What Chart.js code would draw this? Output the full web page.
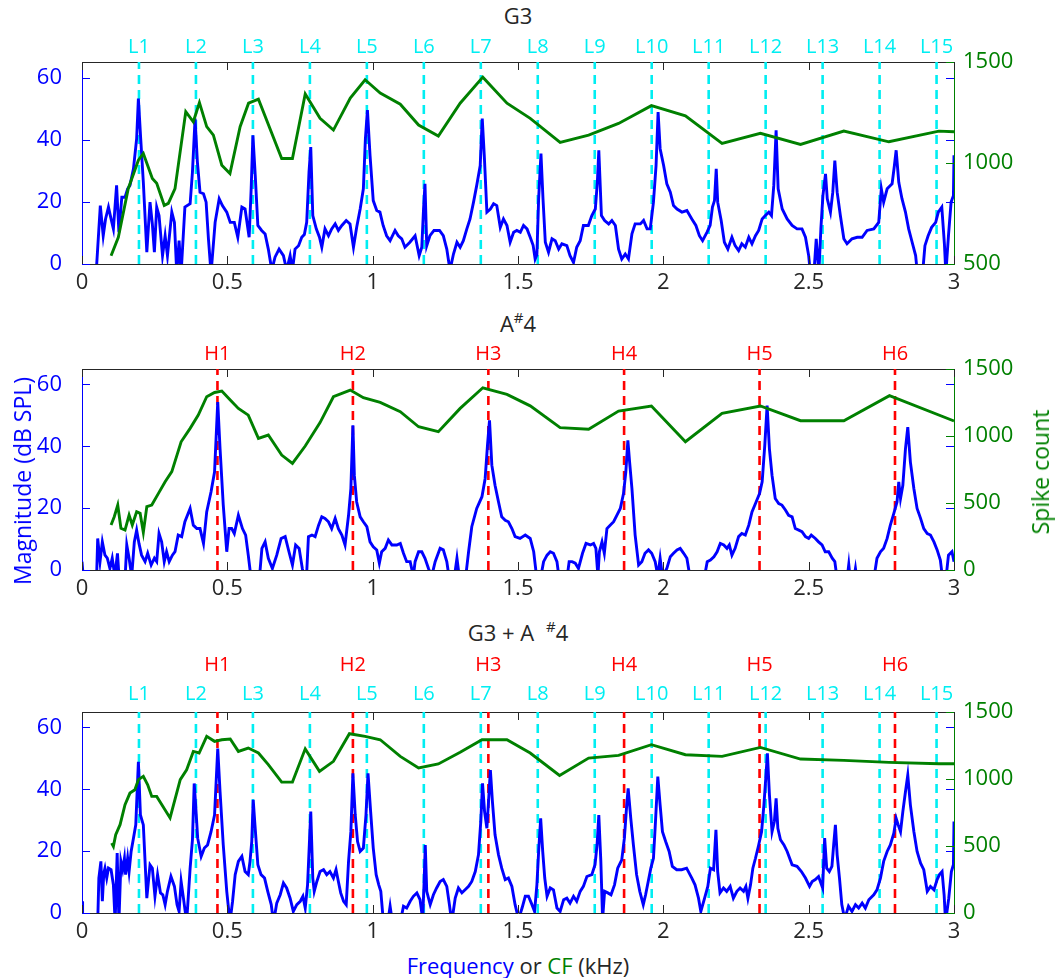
<!DOCTYPE html>
<html>
<head>
<meta charset="utf-8">
<script src="https://cdn.jsdelivr.net/npm/chart.js@4.4.1/dist/chart.umd.min.js"></script>
<style>
  html, body { margin: 0; padding: 0; background: #fff; }
  #fig { position: relative; width: 1055px; height: 978px; overflow: hidden; font-family: "Open Sans", sans-serif; }
  #fig canvas { position: absolute; left: 0; }
  .ttl { position: absolute; left: 0; width: 1036px; text-align: center; font-size: 22px; line-height: 26px; color: #262626; }
  .ttl sup { font-size: 15px; vertical-align: 0; position: relative; top: -9px; }
  .ylab { position: absolute; font-size: 23px; line-height: 28px; white-space: nowrap; transform: translate(-50%, -50%) rotate(-90deg); }
  .xlab { position: absolute; left: 0; width: 1036px; text-align: center; font-size: 22px; line-height: 28px; color: #262626; }
</style>
</head>
<body>
<div id="fig">
  <div class="ttl" style="top:2px">G3</div>
  <canvas id="cG3" width="1055" height="275" style="top:25px"></canvas>
  <div class="ttl" style="top:310px">A<sup>#</sup>4</div>
  <canvas id="cAs4" width="1055" height="275" style="top:335px"></canvas>
  <div class="ttl" style="top:619px">G3 + A <sup style="margin-left:6px">#</sup>4</div>
  <canvas id="cMix" width="1055" height="310" style="top:640px"></canvas>
  <div class="ylab" style="left:22px;top:481px;color:#0000ff">Magnitude (dB SPL)</div>
  <div class="ylab" style="left:1040px;top:472px;color:#008000">Spike count</div>
  <div class="xlab" style="top:951px"><span style="color:#0000ff">Frequency</span> or <span style="color:#008000">CF</span> (kHz)</div>
</div>
<script>
// ---- axis ticks and marker labels ----
const xTicks = [0, 0.5, 1, 1.5, 2, 2.5, 3];
const magTicks = [0, 20, 40, 60];
const spikeTicksG3 = [500, 1000, 1500];
const spikeTicks = [0, 500, 1000, 1500];
const lPos = [0.196, 0.392, 0.588, 0.784, 0.980, 1.176, 1.372, 1.568, 1.764, 1.960, 2.156, 2.352, 2.548, 2.744, 2.940];
const lNames = ['L1','L2','L3','L4','L5','L6','L7','L8','L9','L10','L11','L12','L13','L14','L15'];
const hPos = [0.466, 0.932, 1.398, 1.865, 2.331, 2.797];
const hNames = ['H1','H2','H3','H4','H5','H6'];

// ---- G3 : spectrum (dB SPL) and spike count vs CF ----
const g3Freq = [0.048,0.063,0.073,0.081,0.091,0.100,0.108,0.119,0.127,0.137,0.148,0.157,0.165,0.177,0.188,0.194,0.202,0.211,0.223,0.234,0.242,0.249,0.257,0.265,0.277,0.286,0.294,0.309,0.318,0.326,0.334,0.341,0.354,0.372,0.380,0.389,0.397,0.406,0.418,0.427,0.435,0.444,0.458,0.472,0.483,0.498,0.510,0.524,0.536,0.550,0.561,0.575,0.582,0.588,0.596,0.605,0.618,0.630,0.641,0.653,0.664,0.678,0.693,0.704,0.716,0.724,0.733,0.745,0.756,0.765,0.773,0.781,0.787,0.794,0.806,0.817,0.825,0.836,0.848,0.859,0.871,0.882,0.894,0.909,0.922,0.934,0.945,0.957,0.968,0.975,0.982,0.991,1.002,1.014,1.025,1.036,1.048,1.060,1.077,1.088,1.100,1.111,1.128,1.146,1.160,1.169,1.175,1.180,1.186,1.197,1.211,1.230,1.243,1.255,1.266,1.278,1.290,1.301,1.312,1.324,1.335,1.347,1.358,1.370,1.377,1.384,1.393,1.405,1.416,1.427,1.439,1.450,1.462,1.473,1.485,1.496,1.508,1.519,1.531,1.542,1.552,1.559,1.565,1.571,1.579,1.586,1.594,1.605,1.617,1.628,1.640,1.651,1.668,1.679,1.691,1.702,1.714,1.725,1.742,1.754,1.766,1.773,1.778,1.787,1.798,1.812,1.823,1.835,1.846,1.857,1.869,1.880,1.892,1.903,1.921,1.932,1.944,1.955,1.966,1.975,1.982,1.989,2.001,2.012,2.024,2.035,2.047,2.064,2.081,2.098,2.112,2.124,2.135,2.150,2.161,2.169,2.176,2.182,2.187,2.199,2.210,2.222,2.236,2.247,2.259,2.270,2.282,2.294,2.305,2.317,2.328,2.340,2.351,2.363,2.372,2.380,2.388,2.395,2.409,2.426,2.443,2.460,2.477,2.489,2.500,2.506,2.518,2.526,2.535,2.542,2.549,2.558,2.564,2.575,2.583,2.590,2.598,2.609,2.621,2.632,2.649,2.667,2.684,2.701,2.724,2.741,2.750,2.758,2.770,2.787,2.795,2.801,2.810,2.821,2.833,2.844,2.856,2.868,2.874,2.892,2.900,2.911,2.923,2.937,2.946,2.958,2.967,2.972,2.981,2.990,2.998,3.000];
const g3Mag = [-4,18.8,9.1,14.5,18.3,14.5,11.3,25.3,10.2,21.5,21.5,24.2,25.3,30.6,40.3,53.2,40.3,26.3,3.8,19.9,12.9,3.8,18.3,15.6,2.7,9.1,2.7,16.7,13.4,-3,7.5,-3,18.3,19.4,29.6,46.8,32.8,23.1,22.6,19.9,8.1,-3,13.4,21.0,18.8,16.7,13.4,13.4,8.6,18.3,17.7,8.6,24.2,41.4,28.5,12.4,10.8,9.7,4.8,-2,2.2,4.8,2.7,-2,2.7,-2,4.8,5.9,8.6,9.5,13.4,29.6,37.6,15.6,11.3,8.6,5.4,11.3,9.1,11.3,12.9,10.8,12.4,14.0,12.9,5.4,11.8,17.7,24.2,40.3,49.5,34.9,20.4,17.2,16.7,12.4,9.1,7.5,10.8,9.1,8.1,5.4,7.0,9.1,2.7,5.4,17.7,25.8,5.9,9.1,10.8,10.8,9.1,4.8,-2,3.2,7.0,5.4,7.5,11.3,14.5,19.9,25.3,31.7,46.8,34.9,16.7,17.7,19.4,18.8,11.8,14.5,12.4,7.0,10.2,10.8,10.2,12.4,11.3,8.6,6.0,1.6,3.0,21.0,35.5,21.0,7.0,3.8,8.1,7.5,4.8,6.5,5.9,2.7,0.5,5.4,7.5,12.4,12.4,15.6,17.7,26.3,36.6,15.6,14.0,12.9,14.0,12.4,4.8,1.6,3.2,1.6,9.7,12.9,12.9,14.0,11.3,11.3,19.9,31.7,48.9,37.1,31.7,25.8,23.1,18.8,17.7,16.7,17.2,14.5,12.4,9.1,7.5,10.2,12.4,18.3,20.4,30.6,19.9,14.0,7.0,4.8,8.6,5.9,4.3,6.5,5.4,8.6,6.5,9.1,10.8,14.5,15.6,16.7,15.6,25.3,43.0,24.2,17.7,14.5,12.4,11.3,11.3,8.6,2.7,-3,-3,8.1,-3,11.3,22.0,29.0,21.0,16.7,23.1,33.3,23.1,15.6,8.1,6.5,8.1,8.6,8.6,10.8,11.3,13.4,24.2,19.9,24.2,25.8,31.7,36.6,26.3,21.0,16.7,11.3,7.0,2.7,-3,-3,5.9,9.1,11.8,13.4,16.7,18.3,6.5,-3,9.1,19.9,22.0,35.0];
const g3Cf = [0.100,0.125,0.159,0.194,0.211,0.242,0.257,0.283,0.297,0.320,0.357,0.383,0.404,0.429,0.452,0.481,0.509,0.544,0.573,0.607,0.687,0.724,0.768,0.819,0.865,0.923,0.974,1.026,1.095,1.158,1.226,1.301,1.379,1.462,1.542,1.645,1.743,1.846,1.959,2.076,2.202,2.334,2.472,2.621,2.776,2.948,3.000];
const g3Spikes = [541,632,873,1014,1047,923,900,790,800,873,1254,1204,1299,1180,1138,989,948,1180,1296,1316,1022,1022,1342,1221,1163,1321,1412,1346,1291,1188,1133,1296,1425,1296,1221,1102,1138,1196,1284,1233,1097,1147,1092,1158,1105,1158,1155];

// ---- A#4 ----
const as4Freq = [0.000,0.005,0.050,0.054,0.062,0.070,0.079,0.087,0.096,0.104,0.113,0.122,0.128,0.148,0.154,0.162,0.171,0.180,0.188,0.196,0.205,0.217,0.226,0.238,0.249,0.257,0.265,0.274,0.283,0.291,0.300,0.311,0.320,0.331,0.343,0.354,0.372,0.383,0.395,0.406,0.418,0.429,0.444,0.456,0.467,0.475,0.486,0.498,0.506,0.515,0.524,0.538,0.552,0.563,0.572,0.582,0.610,0.619,0.630,0.641,0.655,0.670,0.685,0.699,0.712,0.724,0.735,0.747,0.758,0.765,0.772,0.779,0.791,0.802,0.814,0.825,0.836,0.848,0.859,0.871,0.882,0.894,0.905,0.917,0.925,0.932,0.937,0.945,0.957,0.968,0.980,0.991,1.002,1.014,1.023,1.031,1.043,1.054,1.066,1.083,1.095,1.106,1.117,1.129,1.140,1.146,1.158,1.169,1.180,1.192,1.203,1.215,1.232,1.243,1.255,1.264,1.280,1.290,1.299,1.319,1.330,1.341,1.358,1.376,1.387,1.395,1.402,1.410,1.421,1.433,1.444,1.456,1.467,1.479,1.490,1.507,1.525,1.542,1.554,1.565,1.577,1.588,1.600,1.611,1.622,1.634,1.642,1.668,1.676,1.686,1.697,1.708,1.722,1.734,1.749,1.760,1.768,1.775,1.780,1.789,1.797,1.806,1.817,1.829,1.840,1.852,1.863,1.871,1.878,1.884,1.892,1.903,1.915,1.926,1.937,1.949,1.960,1.972,1.981,1.989,1.997,2.012,2.024,2.035,2.047,2.058,2.070,2.081,2.093,2.140,2.151,2.162,2.174,2.185,2.196,2.208,2.219,2.227,2.236,2.247,2.259,2.270,2.282,2.294,2.305,2.317,2.331,2.340,2.349,2.357,2.365,2.374,2.385,2.397,2.408,2.420,2.431,2.443,2.454,2.466,2.477,2.489,2.500,2.509,2.523,2.534,2.546,2.557,2.569,2.581,2.590,2.598,2.632,2.638,2.643,2.655,2.661,2.666,2.724,2.735,2.747,2.758,2.770,2.781,2.793,2.804,2.810,2.816,2.824,2.833,2.841,2.850,2.862,2.873,2.885,2.896,2.908,2.919,2.931,2.942,2.953,2.961,2.972,2.981,2.993,3.000];
const as4Mag = [2.7,-3,-3,10.2,2.7,9.1,4.8,3.8,0.5,3.8,-2,5.4,-3,-3,8.1,3.8,-2,9.1,12.9,8.6,4.8,2.7,5.4,1.6,3.8,2.7,11.8,9.1,2.7,5.9,2.7,4.8,5.9,11.3,10.8,15.6,19.9,14.5,13.4,13.4,8.6,18.8,25.3,31.7,54.3,39.2,21.0,5.9,13.4,13.4,11.8,17.7,13.4,11.3,4.8,-3,-3,7.0,9.1,3.8,0.5,4.8,10.2,10.8,5.9,1.6,8.1,7.0,0.5,-3,-3,10.8,11.3,10.8,14.5,17.2,16.7,15.6,13.4,16.7,13.4,11.3,8.1,17.7,26.3,46.8,30.6,22.0,17.2,15.6,14.0,9.1,7.5,6.5,2.2,5.9,7.0,9.7,8.1,8.1,8.6,5.4,2.7,2.7,-2,2.7,5.9,5.9,3.8,0.5,-2,2.7,7.0,6.5,2.7,-3,-3,3.8,-3,-3,5.9,14.0,19.9,23.7,29.6,40.3,48.4,33.9,27.4,22.0,17.2,16.1,15.6,13.4,10.8,10.2,11.3,10.2,5.9,-3,-3,2.7,4.8,5.9,5.4,2.7,-3,-3,2.7,2.7,2.2,0.5,5.4,8.6,8.1,8.6,7.0,-2,5.9,9.1,5.4,13.4,14.5,15.6,17.7,19.9,24.7,31.7,41.9,34.9,26.3,11.3,1.6,2.7,5.4,6.5,5.4,2.7,-2,3.8,-2,0.5,4.3,5.4,6.5,7.0,5.4,3.8,-3,-3,2.7,3.2,4.3,5.9,8.6,8.1,7.0,8.1,4.8,7.0,10.8,11.8,11.3,14.5,18.8,21.5,24.7,28.5,40.3,53.2,39.2,30.6,23.1,21.5,21.0,19.4,17.7,17.2,13.4,12.9,12.4,10.8,10.2,11.3,10.2,9.1,8.1,5.9,5.9,3.8,2.7,-3,-3,1.8,-3,-3,0.5,-3,-3,3.8,5.9,7.0,10.2,14.5,18.3,22.0,28.5,23.1,27.4,39.2,46.2,34.9,26.3,19.9,16.7,13.4,11.8,11.3,9.1,6.5,3.2,-3,-3,4.8,5.9,2.7];
const as4Cf = [0.100,0.111,0.123,0.134,0.148,0.162,0.173,0.188,0.200,0.211,0.223,0.240,0.263,0.286,0.309,0.341,0.372,0.400,0.429,0.456,0.481,0.510,0.538,0.572,0.607,0.641,0.687,0.724,0.768,0.819,0.865,0.923,0.968,1.026,1.095,1.158,1.226,1.301,1.379,1.462,1.542,1.645,1.743,1.846,1.959,2.076,2.202,2.334,2.472,2.621,2.778,3.000];
const as4Spikes = [336,398,485,311,298,410,336,435,423,281,473,485,572,659,734,957,1057,1156,1293,1325,1335,1268,1206,1156,982,1007,858,796,925,1100,1293,1343,1286,1251,1181,1069,1032,1206,1360,1311,1225,1062,1050,1186,1224,957,1169,1224,1114,1114,1301,1112];

// ---- G3 + A#4 ----
const mixFreq = [0.000,0.002,0.054,0.058,0.065,0.070,0.075,0.079,0.085,0.091,0.100,0.108,0.114,0.121,0.127,0.134,0.140,0.146,0.150,0.157,0.162,0.169,0.177,0.185,0.194,0.201,0.211,0.223,0.234,0.242,0.251,0.260,0.270,0.278,0.286,0.294,0.306,0.318,0.327,0.334,0.341,0.349,0.360,0.372,0.380,0.386,0.391,0.398,0.410,0.421,0.432,0.444,0.456,0.467,0.475,0.486,0.498,0.509,0.518,0.527,0.538,0.550,0.561,0.572,0.578,0.584,0.589,0.595,0.605,0.616,0.628,0.639,0.651,0.659,0.670,0.682,0.693,0.704,0.716,0.727,0.739,0.751,0.760,0.768,0.776,0.782,0.787,0.794,0.799,0.808,0.819,0.831,0.842,0.853,0.865,0.874,0.882,0.890,0.900,0.909,0.917,0.925,0.932,0.940,0.948,0.957,0.968,0.977,0.984,0.993,1.002,1.012,1.021,1.028,1.037,1.052,1.060,1.068,1.095,1.106,1.117,1.129,1.140,1.152,1.163,1.172,1.177,1.181,1.186,1.198,1.209,1.220,1.232,1.243,1.255,1.264,1.272,1.284,1.295,1.307,1.318,1.330,1.341,1.353,1.364,1.372,1.378,1.385,1.393,1.400,1.405,1.412,1.421,1.433,1.444,1.456,1.467,1.479,1.490,1.502,1.514,1.525,1.536,1.548,1.557,1.565,1.571,1.578,1.585,1.592,1.600,1.611,1.622,1.634,1.645,1.657,1.668,1.679,1.691,1.702,1.714,1.725,1.737,1.754,1.765,1.772,1.778,1.785,1.791,1.798,1.809,1.820,1.832,1.843,1.857,1.866,1.874,1.879,1.888,1.897,1.908,1.919,1.931,1.939,1.948,1.957,1.966,1.973,1.981,1.989,1.997,2.008,2.020,2.031,2.046,2.063,2.080,2.098,2.109,2.121,2.129,2.142,2.153,2.162,2.173,2.181,2.187,2.195,2.207,2.218,2.230,2.241,2.253,2.264,2.276,2.284,2.291,2.300,2.308,2.317,2.328,2.338,2.346,2.354,2.358,2.365,2.374,2.382,2.388,2.394,2.403,2.415,2.426,2.443,2.460,2.475,2.489,2.503,2.512,2.523,2.534,2.548,2.555,2.562,2.571,2.580,2.586,2.592,2.598,2.606,2.614,2.624,2.637,2.649,2.661,2.672,2.684,2.695,2.707,2.724,2.735,2.747,2.758,2.770,2.781,2.793,2.801,2.808,2.816,2.824,2.833,2.841,2.850,2.862,2.873,2.885,2.896,2.908,2.919,2.931,2.942,2.950,2.959,2.966,2.971,2.982,2.991,2.998,3.000];
const mixMag = [3.8,-3,-3,11.3,16.7,3.8,12.9,14.5,11.3,14.5,14.0,9.1,-3,19.4,-3,16.7,14.0,17.7,12.4,17.7,13.4,19.9,24.2,28.5,48.9,31.7,28.5,4.8,15.6,14.5,5.4,12.4,6.5,5.9,2.7,7.0,11.8,8.6,2.7,0.5,10.2,4.8,-3,14.5,23.7,41.9,34.9,24.2,18.3,21.0,22.0,26.3,31.7,53.2,39.2,22.0,7.0,-3,3.8,12.4,16.7,18.3,13.4,12.4,16.7,23.1,36.6,28.5,15.6,12.4,11.3,7.0,2.7,-3,3.2,5.9,9.7,8.1,4.8,0.5,2.7,3.8,5.4,1.6,9.1,22.0,32.8,11.3,7.0,10.2,13.4,14.0,12.4,13.4,11.3,14.0,10.2,6.5,3.8,2.7,16.7,26.3,45.2,31.7,23.1,19.9,21.0,31.7,45.2,32.8,21.0,12.4,9.1,7.0,-3,-3,2.2,-3,-3,2.2,1.6,3.8,5.4,6.5,4.3,-2,10.2,22.0,7.0,2.7,5.9,8.1,10.2,10.8,8.6,2.7,-3,4.8,8.1,6.5,7.5,8.6,10.2,13.4,18.8,29.6,41.9,32.8,27.4,38.2,46.2,36.0,25.3,18.8,14.5,10.8,11.3,8.6,2.7,-2,1.6,5.4,5.4,2.7,0.5,9.1,19.9,30.6,19.9,11.3,5.4,8.1,7.5,1.6,0.5,4.3,4.8,3.2,5.4,3.8,7.0,8.6,11.8,12.4,15.6,22.0,31.7,16.7,-2,7.0,6.5,5.9,9.1,14.5,17.2,24.2,34.9,40.3,30.6,22.0,12.4,7.0,2.7,5.9,10.2,14.5,17.7,29.6,44.1,34.9,26.3,23.1,19.9,15.1,14.0,14.0,14.5,11.3,9.1,4.8,0.5,4.8,8.6,14.5,14.0,26.9,13.4,6.5,8.1,7.0,8.6,4.8,7.0,8.1,7.0,8.6,4.8,9.1,14.5,17.7,22.0,26.3,34.9,45.7,51.6,38.2,26.3,29.6,37.1,27.4,23.7,22.0,19.9,15.6,15.1,13.4,11.3,8.6,10.2,10.8,11.8,8.1,24.2,14.5,13.4,15.1,22.0,28.5,18.8,11.3,2.7,-2,2.2,0.5,2.7,1.6,3.2,1.6,4.3,5.9,7.5,11.3,16.7,19.9,22.0,25.8,30.6,28.5,26.3,32.8,39.2,44.6,34.9,26.3,19.9,16.1,14.0,7.0,8.6,7.5,10.8,12.4,13.4,5.9,-3,4.8,13.4,15.6,29.6];
const mixCf = [0.102,0.108,0.116,0.131,0.148,0.165,0.182,0.194,0.211,0.226,0.240,0.257,0.303,0.338,0.360,0.383,0.403,0.429,0.456,0.481,0.510,0.538,0.572,0.607,0.641,0.687,0.724,0.768,0.817,0.865,0.920,0.974,1.026,1.095,1.158,1.226,1.301,1.376,1.462,1.542,1.643,1.743,1.846,1.959,2.076,2.202,2.334,2.472,2.621,2.776,2.948,3.000];
const mixSpikes = [522,497,584,659,808,895,920,995,1020,957,870,870,709,995,1069,1206,1194,1318,1281,1293,1298,1206,1231,1194,1107,977,977,1225,1057,1132,1338,1318,1293,1169,1082,1112,1199,1293,1293,1194,1027,1156,1176,1256,1181,1169,1236,1149,1139,1124,1114,1114];

// ---- styling ----
const BLUE = '#0000ff';
const GREEN = '#008000';
const CYAN = '#00eef2';
const RED = '#ff0000';
const INK = '#262626';
const FONT = { family: '"Open Sans", sans-serif', size: 22 };
const LABEL_FONT = { family: '"Open Sans", sans-serif', size: 20 };
const MAG_MAX = 65;
const LINE_W = 2.9;

function points(xs, ys) { return xs.map((x, i) => ({ x, y: ys[i] })); }
function markerLines(pos) {
  const d = [];
  pos.forEach(p => { d.push({ x: p, y: 0 }, { x: p, y: MAG_MAX }, { x: p, y: null }); });
  return d;
}
function fixTicks(values) { return s => { s.ticks = values.map(v => ({ value: v })); }; }

// small inward tick marks on all four sides of the plot box
const inwardTicks = {
  id: 'inwardTicks',
  afterDatasetsDraw(chart) {
    const { ctx, chartArea: a, scales } = chart;
    const len = 8;
    ctx.save();
    ctx.lineWidth = 1;
    ctx.strokeStyle = INK;
    ctx.beginPath();
    scales.x.ticks.forEach(t => {
      const px = Math.round(scales.x.getPixelForValue(t.value)) + 0.5;
      ctx.moveTo(px, a.bottom); ctx.lineTo(px, a.bottom - len);
      ctx.moveTo(px, a.top); ctx.lineTo(px, a.top + len);
    });
    ctx.stroke();
    ctx.strokeStyle = BLUE;
    ctx.beginPath();
    scales.y.ticks.forEach(t => {
      const py = Math.round(scales.y.getPixelForValue(t.value)) + 0.5;
      ctx.moveTo(a.left, py); ctx.lineTo(a.left + len, py);
      ctx.moveTo(a.right, py); ctx.lineTo(a.right - len, py);
    });
    ctx.stroke();
    ctx.strokeStyle = GREEN;
    ctx.beginPath();
    scales.y2.ticks.forEach(t => {
      const py = Math.round(scales.y2.getPixelForValue(t.value)) + 0.5;
      ctx.moveTo(a.right, py); ctx.lineTo(a.right - len, py);
    });
    ctx.stroke();
    ctx.restore();
  }
};

function topAxis(pos, names, color, weight, height, pad, withBorder) {
  return {
    type: 'linear', position: 'top', min: 0, max: 3, weight,
    afterBuildTicks: fixTicks(pos),
    afterFit: s => { s.height = height; },
    ticks: { callback: (v, i) => names[i], color, font: LABEL_FONT, padding: pad, maxRotation: 0, autoSkip: false },
    grid: { display: false, drawTicks: false },
    border: { display: withBorder, color: INK, width: 1 }
  };
}

function buildPanel(id, o) {
  const datasets = [
    { data: points(o.freq, o.mag), xAxisID: 'x', yAxisID: 'y', borderColor: BLUE, borderWidth: LINE_W,
      pointRadius: 0, tension: 0, clip: 0, order: 1 },
    { data: points(o.cf, o.spikes), xAxisID: 'x', yAxisID: 'y2', borderColor: GREEN, borderWidth: LINE_W,
      pointRadius: 0, tension: 0, clip: 0, order: 0 }
  ];
  o.markers.forEach(m => {
    datasets.push({ data: markerLines(m.pos), xAxisID: 'x', yAxisID: 'y', borderColor: m.color, borderWidth: 2.6,
      borderDash: [9, 6], pointRadius: 0, spanGaps: false, clip: 0, order: m.order });
  });
  const scales = {
    x: {
      type: 'linear', position: 'bottom', min: 0, max: 3,
      afterBuildTicks: fixTicks(xTicks),
      afterFit: s => { s.height = o.bottomHeight; },
      ticks: { callback: v => String(v), color: INK, font: FONT, padding: 6, maxRotation: 0, autoSkip: false },
      grid: { display: false, drawTicks: false },
      border: { display: true, color: INK, width: 1 }
    },
    y: {
      type: 'linear', position: 'left', min: 0, max: MAG_MAX,
      afterBuildTicks: fixTicks(magTicks),
      afterFit: s => { s.width = 82; },
      ticks: { callback: v => String(v), color: BLUE, font: FONT, padding: 20 },
      grid: { display: false, drawTicks: false },
      border: { display: true, color: BLUE, width: 1 }
    },
    y2: {
      type: 'linear', position: 'right', min: o.spikeMin, max: 1500,
      afterBuildTicks: fixTicks(o.spikeTicks),
      afterFit: s => { s.width = 101; },
      ticks: { callback: v => String(v), color: GREEN, font: FONT, padding: 9 },
      grid: { display: false, drawTicks: false },
      border: { display: true, color: GREEN, width: 1 }
    }
  };
  o.tops.forEach((t, i) => {
    scales['top' + i] = topAxis(t.pos, t.names, t.color, i, t.height, t.pad, i === 0);
  });
  return new Chart(document.getElementById(id), {
    type: 'line',
    data: { datasets },
    options: {
      responsive: false, animation: false, devicePixelRatio: 1, events: [],
      layout: { padding: 0 },
      plugins: { legend: { display: false }, tooltip: { enabled: false } },
      scales
    },
    plugins: [inwardTicks]
  });
}

buildPanel('cG3', {
  freq: g3Freq, mag: g3Mag, cf: g3Cf, spikes: g3Spikes,
  spikeMin: 500, spikeTicks: spikeTicksG3, bottomHeight: 36,
  markers: [{ pos: lPos, color: CYAN, order: 3 }],
  tops: [{ pos: lPos, names: lNames, color: CYAN, height: 37, pad: 3 }]
});

buildPanel('cAs4', {
  freq: as4Freq, mag: as4Mag, cf: as4Cf, spikes: as4Spikes,
  spikeMin: 0, spikeTicks: spikeTicks, bottomHeight: 40,
  markers: [{ pos: hPos, color: RED, order: 2 }],
  tops: [{ pos: hPos, names: hNames, color: RED, height: 34, pad: 3 }]
});

buildPanel('cMix', {
  freq: mixFreq, mag: mixMag, cf: mixCf, spikes: mixSpikes,
  spikeMin: 0, spikeTicks: spikeTicks, bottomHeight: 37,
  markers: [{ pos: lPos, color: CYAN, order: 3 }, { pos: hPos, color: RED, order: 2 }],
  tops: [
    { pos: lPos, names: lNames, color: CYAN, height: 32, pad: 6 },
    { pos: hPos, names: hNames, color: RED, height: 40, pad: 3 }
  ]
});
</script>
</body>
</html>
